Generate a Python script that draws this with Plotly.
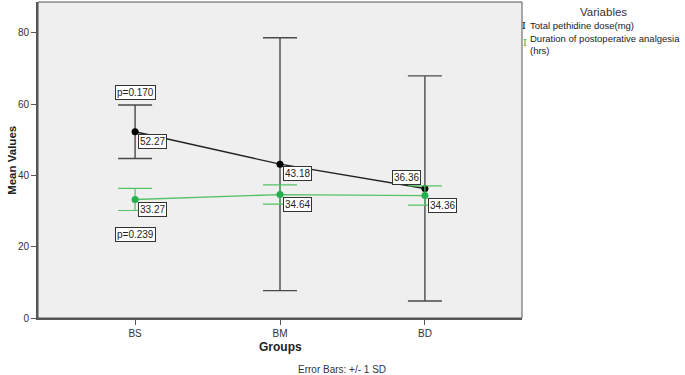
import plotly.graph_objects as go

groups = ["BS", "BM", "BD"]
pethidine_mean = [52.27, 43.18, 36.36]
pethidine_sd = [7.5, 35.5, 31.6]
duration_mean = [33.27, 34.64, 34.36]
duration_sd = [3.1, 2.7, 2.7]
p_labels = ["p=0.170", "p=0.239"]
series_names = ["Total pethidine dose(mg)", "Duration of postoperative analgesia<br>(hrs)"]
y_ticks = [0, 20, 40, 60, 80]

FONT = "Liberation Sans, Arial, sans-serif"
BLACK_LINE = "#222222"
BLACK_ERR = "#4a4a4a"
GREEN_M = "#22b14c"
GREEN_L = "#55c266"

fig = go.Figure()
fig.add_trace(go.Scatter(
    x=groups, y=pethidine_mean, mode="lines+markers", name=series_names[0],
    line=dict(color=BLACK_LINE, width=1.4),
    marker=dict(color="black", size=7),
    error_y=dict(type="data", array=pethidine_sd, visible=True, color=BLACK_ERR,
                 thickness=1.4, width=17),
    showlegend=False,
))
fig.add_trace(go.Scatter(
    x=groups, y=duration_mean, mode="lines+markers", name=series_names[1],
    line=dict(color=GREEN_L, width=1.4),
    marker=dict(color=GREEN_M, size=7),
    error_y=dict(type="data", array=duration_sd, visible=True, color=GREEN_L,
                 thickness=1.2, width=17),
    showlegend=False,
))

box = dict(bgcolor="white", bordercolor="#333333", borderwidth=1, borderpad=1,
           showarrow=False, xanchor="center", yanchor="middle",
           font=dict(family=FONT, size=10, color="#222"))

# value labels
for i, (g, v) in enumerate(zip(groups, pethidine_mean)):
    if i == 2:
        fig.add_annotation(x=g, y=v, text=f"{v:.2f}", xshift=-18, yshift=10.5, **box)
    else:
        fig.add_annotation(x=g, y=v, text=f"{v:.2f}", xshift=17.5, yshift=-9.5, **box)
for g, v in zip(groups, duration_mean):
    fig.add_annotation(x=g, y=v, text=f"{v:.2f}", xshift=17.5, yshift=-9.8, **box)

# p-values
fig.add_annotation(x=groups[0], y=pethidine_mean[0] + pethidine_sd[0], text=p_labels[0],
                   yshift=13, **box)
fig.add_annotation(x=groups[0], y=duration_mean[0] - duration_sd[0], text=p_labels[1],
                   yshift=-23.5, **box)

pa = dict(xref="paper", yref="paper", showarrow=False, yanchor="middle", borderpad=0)
# legend (manual)
fig.add_annotation(x=1.169, y=0.968, text="Variables", xanchor="center",
                   font=dict(family=FONT, size=11.5, color="#333"), **pa)
fig.add_annotation(x=1.004, y=0.927, text="I", xanchor="center",
                   font=dict(family="DejaVu Serif", size=9.5, color="black"), **pa)
fig.add_annotation(x=1.0135, y=0.927, xanchor="left",
                   text=series_names[0],
                   font=dict(family=FONT, size=9.5, color="#222"), **pa)
fig.add_annotation(x=1.007, y=0.873, text="I", xanchor="center",
                   font=dict(family="DejaVu Serif", size=9.5, color=GREEN_M), **pa)
fig.add_annotation(x=1.0135, y=0.8655, xanchor="left", align="left",
                   text=series_names[1],
                   font=dict(family=FONT, size=9.5, color="#222"), **pa)

# axis titles and footnote
fig.add_annotation(x=0.5, y=-0.092, text="<b>Groups</b>", xanchor="center",
                   font=dict(family=FONT, size=12, color="#222"), **pa)
fig.add_annotation(x=0.628, y=-0.162, xanchor="center",
                   text="Error Bars: +/- 1 SD",
                   font=dict(family=FONT, size=10, color="#333"), **pa)
fig.add_annotation(x=-0.054, y=0.5, text="<b>Mean Values</b>", xanchor="center",
                   textangle=-90,
                   font=dict(family=FONT, size=11.5, color="#222"), **pa)

# frame
fig.add_shape(type="rect", xref="paper", yref="paper", x0=0, y0=0, x1=1, y1=1,
              line=dict(color="#555555", width=1), layer="above")

fig.update_xaxes(range=[-0.67, 2.67], showgrid=False, zeroline=False,
                 showline=True, linecolor="#555555", linewidth=2,
                 ticks="outside", ticklen=5, tickcolor="#555555",
                 tickfont=dict(family=FONT, size=10, color="#333"))
fig.update_yaxes(range=[0, 88.7], tickvals=y_ticks, showgrid=False, zeroline=False,
                 showline=True, linecolor="#555555", linewidth=2,
                 ticks="outside", ticklen=5, tickcolor="#555555",
                 tickfont=dict(family=FONT, size=10, color="#333"))
fig.update_layout(
    width=685, height=375,
    margin=dict(l=38, r=163, t=2, b=57),
    plot_bgcolor="#efefef", paper_bgcolor="white",
    font=dict(family=FONT),
)
fig.write_html("out.html", config={"displayModeBar": False},
               post_script="document.body.style.margin='0';")
